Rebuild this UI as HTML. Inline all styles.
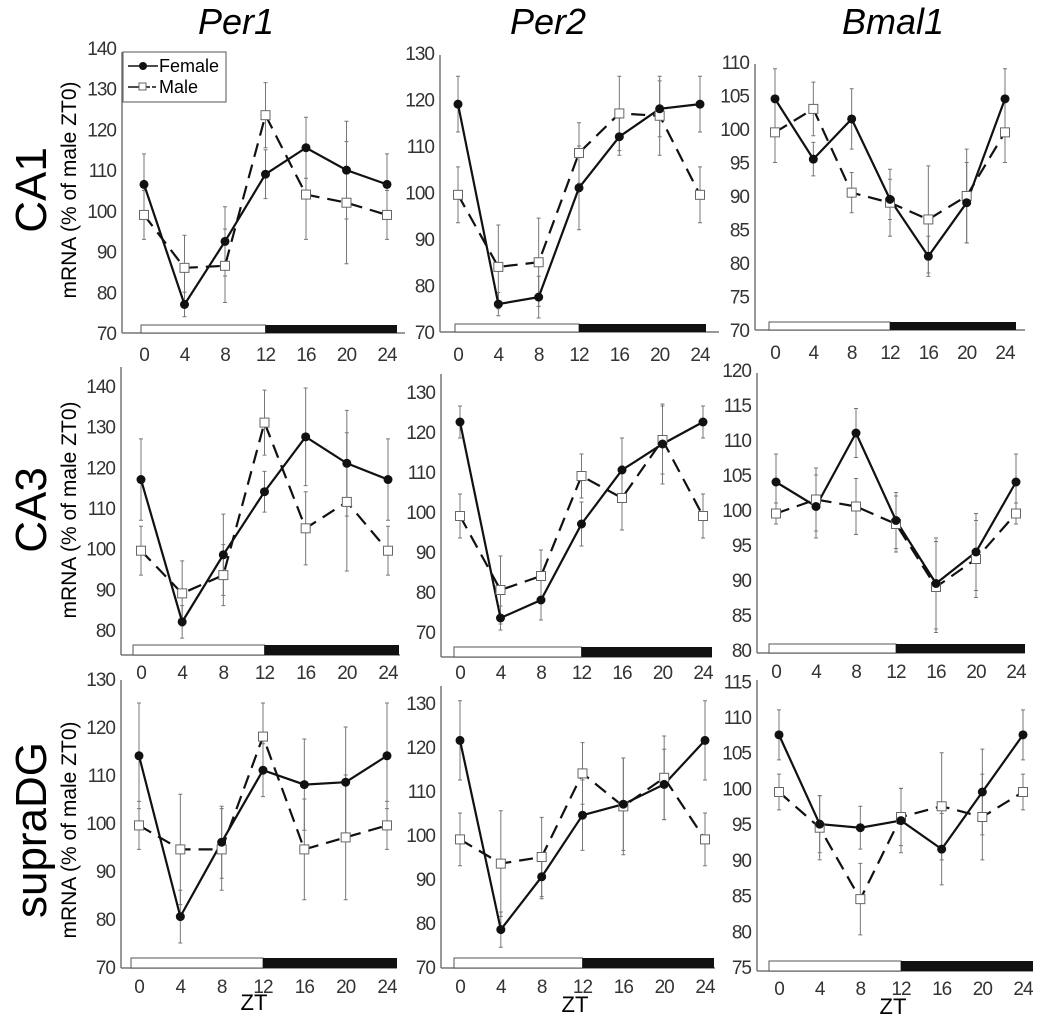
<!DOCTYPE html>
<html><head><meta charset="utf-8"><style>
body{margin:0;background:#fff;}
svg{display:block;font-family:"Liberation Sans",sans-serif;}
</style></head><body>
<svg id="fig" width="1050" height="1024" viewBox="0 0 1050 1024" xmlns="http://www.w3.org/2000/svg">
<text x="236" y="34" font-size="36" font-style="italic" text-anchor="middle">Per1</text>
<text x="548" y="34" font-size="36" font-style="italic" text-anchor="middle">Per2</text>
<text x="893" y="34" font-size="36" font-style="italic" text-anchor="middle">Bmal1</text>
<text transform="translate(46,190) rotate(-90)" font-size="44" text-anchor="middle">CA1</text>
<text transform="translate(76,190) rotate(-90)" font-size="21" text-anchor="middle">mRNA (% of male ZT0)</text>
<text transform="translate(46,510) rotate(-90)" font-size="44" text-anchor="middle">CA3</text>
<text transform="translate(76,510) rotate(-90)" font-size="21" text-anchor="middle">mRNA (% of male ZT0)</text>
<text transform="translate(46,830) rotate(-90)" font-size="44" text-anchor="middle">supraDG</text>
<text transform="translate(76,830) rotate(-90)" font-size="21" text-anchor="middle">mRNA (% of male ZT0)</text>
</svg>
<script>
const zt = [0,4,8,12,16,20,24];
// CA1
const ca1Per1F=[106.5,77,92.5,109,115.5,110,106.5], ca1Per1FE=[7.5,3,8.5,6,7.5,12,7.5];
const ca1Per1M=[99,86,86.5,123.5,104,102,99], ca1Per1ME=[6,8,9,8,11,15,6];
const ca1Per2F=[119,76,77.5,101,112,118,119], ca1Per2FE=[6,2.5,4.5,9,4,6,6];
const ca1Per2M=[99.5,84,85,108.5,117,116.5,99.5], ca1Per2ME=[6,9,9.5,6.5,8,8.5,6];
const ca1BmalF=[104.5,95.5,101.5,89.5,81,89,104.5], ca1BmalFE=[4.5,2.5,4.5,3,3,6,4.5];
const ca1BmalM=[99.5,103,90.5,89,86.5,90,99.5], ca1BmalME=[4.5,4,3,5,8,7,4.5];
// CA3
const ca3Per1F=[117,82,98.5,114,127.5,121,117], ca3Per1FE=[10,4,10,5,12,13,10];
const ca3Per1M=[99.5,89,93.5,131,105,111.5,99.5], ca3Per1ME=[6,8,7.5,8,9,17,6];
const ca3Per2F=[122.5,73.5,78,97,110.5,117,122.5], ca3Per2FE=[4,3,5,5.5,8,10,4];
const ca3Per2M=[99,80.5,84,109,103.5,118,99], ca3Per2ME=[5.5,8.5,6.5,5.5,8,8.5,5.5];
const ca3BmalF=[104,100.5,111,98.5,89.5,94,104], ca3BmalFE=[4,4.5,3.5,4,6.5,5.5,4];
const ca3BmalM=[99.5,101.5,100.5,98,89,93,99.5], ca3BmalME=[1.5,4.5,4,4,6.5,5.5,1.5];
// supraDG
const dgPer1F=[114,80.5,96,111,108,108.5,114], dgPer1FE=[11,5.5,7.5,5.5,9.5,11.5,11];
const dgPer1M=[99.5,94.5,94.5,118,94.5,97,99.5], dgPer1ME=[5,11.5,8.5,7,10.5,13,5];
const dgPer2F=[121.5,78.5,90.5,104.5,107,111.5,121.5], dgPer2FE=[9,4,5,8,10.5,8,9];
const dgPer2M=[99,93.5,95,114,106.5,113,99], dgPer2ME=[6,12,9,7,11,9.5,6];
const dgBmalF=[107.5,95,94.5,95.5,91.5,99.5,107.5], dgBmalFE=[3.5,4,3,4.5,5,6,3.5];
const dgBmalM=[99.5,94.5,84.5,96,97.5,96,99.5], dgBmalME=[2.5,4.5,5,4,7.5,6,2.5];
const ticks1=[70,80,90,100,110,120,130,140], ticks2=[70,80,90,100,110,120,130], ticks3=[70,75,80,85,90,95,100,105,110];
const ticks4=[80,90,100,110,120,130,140], ticks5=[80,85,90,95,100,105,110,115,120], ticks6=[75,80,85,90,95,100,105,110,115];
const ticks7=[70,80,90,100,110,120,130];

const panels=[
 {n:'ca1-per1',ax:122,x0:144,x24:387,right:405,v0:70,p0:333,v1:140,p1:48,bot:333,top:52,ticks:ticks1,F:ca1Per1F,FE:ca1Per1FE,M:ca1Per1M,ME:ca1Per1ME,bx0:141,bx1:397,bh:8,tl:360},
 {n:'ca1-per2',ax:440,x0:458,x24:700,right:719,v0:70,p0:332,v1:130,p1:53,bot:332,top:55,ticks:ticks2,F:ca1Per2F,FE:ca1Per2FE,M:ca1Per2M,ME:ca1Per2ME,bx0:455,bx1:706,bh:8,tl:360},
 {n:'ca1-bmal1',ax:755,x0:775,x24:1005,right:1025,v0:70,p0:330,v1:110,p1:62,bot:330,top:64,ticks:ticks3,F:ca1BmalF,FE:ca1BmalFE,M:ca1BmalM,ME:ca1BmalME,bx0:769,bx1:1016,bh:8,tl:358},
 {n:'ca3-per1',ax:121,x0:141,x24:388,right:400,v0:80,p0:630,v1:140,p1:386,bot:655,top:367,ticks:ticks4,F:ca3Per1F,FE:ca3Per1FE,M:ca3Per1M,ME:ca3Per1ME,bx0:133,bx1:399,bh:10,tl:678},
 {n:'ca3-per2',ax:441,x0:460,x24:703,right:712,v0:70,p0:632,v1:130,p1:392,bot:657,top:374,ticks:ticks2,F:ca3Per2F,FE:ca3Per2FE,M:ca3Per2M,ME:ca3Per2ME,bx0:454,bx1:712,bh:10,tl:678},
 {n:'ca3-bmal1',ax:757,x0:776,x24:1016,right:1025,v0:80,p0:650,v1:120,p1:370,bot:653,top:373,ticks:ticks5,F:ca3BmalF,FE:ca3BmalFE,M:ca3BmalM,ME:ca3BmalME,bx0:769,bx1:1025,bh:9,tl:677},
 {n:'dg-per1',ax:121,x0:139,x24:387,right:397,v0:70,p0:967,v1:130,p1:679,bot:968,top:680,ticks:ticks7,F:dgPer1F,FE:dgPer1FE,M:dgPer1M,ME:dgPer1ME,bx0:131,bx1:397,bh:10,tl:992},
 {n:'dg-per2',ax:441,x0:460,x24:705,right:715,v0:70,p0:967,v1:130,p1:703,bot:968,top:686,ticks:ticks7,F:dgPer2F,FE:dgPer2FE,M:dgPer2M,ME:dgPer2ME,bx0:454,bx1:714,bh:10,tl:992},
 {n:'dg-bmal1',ax:757,x0:779,x24:1023,right:1033,v0:75,p0:967,v1:110,p1:717,bot:971,top:680,ticks:ticks6,F:dgBmalF,FE:dgBmalFE,M:dgBmalM,ME:dgBmalME,bx0:769,bx1:1033,bh:10,tl:994}
];
const svg=document.getElementById('fig');
const NS='http://www.w3.org/2000/svg';
function mk(tag,attrs,parent){const e=document.createElementNS(NS,tag);for(const k in attrs)e.setAttribute(k,attrs[k]);(parent||svg).appendChild(e);return e;}
panels.forEach(p=>{
 const g=mk('g',{});
 
 
 const X=t=>p.x0+(p.x24-p.x0)*t/24;
 const Y=v=>p.p0+(p.p1-p.p0)*(v-p.v0)/(p.v1-p.v0);
 const ya=mk('line',{x1:p.ax,y1:p.top,x2:p.ax,y2:p.bot,stroke:'#777','stroke-width':1.5},g);
 
 
 const xa=mk('line',{x1:p.ax,y1:p.bot,x2:p.right,y2:p.bot,stroke:'#777','stroke-width':1.5},g);
 
 
 p.ticks.forEach(v=>{
  const t=mk('text',{x:p.ax-6,y:Y(v)+7,'font-size':19,'letter-spacing':-1,'text-anchor':'end',fill:'#333'},g);
  t.textContent=v;
  
  
 });
 zt.forEach(z=>{
  const t=mk('text',{x:X(z),y:p.tl+1,'font-size':19,'letter-spacing':-1,'text-anchor':'middle',fill:'#333'},g);
  t.textContent=z;
  
  
 });
 const mid=X(12);
 const lb=mk('rect',{x:p.bx0,y:p.bot-p.bh,width:mid-p.bx0,height:p.bh,fill:'#fff',stroke:'#555','stroke-width':1},g);
 
 
 const db=mk('rect',{x:mid,y:p.bot-p.bh,width:p.bx1-mid,height:p.bh,fill:'#111'},g);
 
 
 [[p.M,p.ME,'male'],[p.F,p.FE,'female']].forEach(([vals,errs,s])=>{
  vals.forEach((v,i)=>{
   const x=X(zt[i]);
   const e=mk('path',{d:`M${x},${Y(v-errs[i])}V${Y(v+errs[i])}M${x-2},${Y(v-errs[i])}h4M${x-2},${Y(v+errs[i])}h4`,stroke:'#777','stroke-width':1,fill:'none'},g);
   
   
  });
 });
 const pts=a=>a.map((v,i)=>X(zt[i])+','+Y(v)).join(' ');
 const ml=mk('polyline',{points:pts(p.M),fill:'none',stroke:'#111','stroke-width':2.2,'stroke-dasharray':'14,8'},g);
 
 
 const fl=mk('polyline',{points:pts(p.F),fill:'none',stroke:'#111','stroke-width':2.2},g);
 
 
 p.M.forEach((v,i)=>{
  const r=mk('rect',{x:X(zt[i])-4.5,y:Y(v)-4.5,width:9,height:9,fill:'#fff',stroke:'#666','stroke-width':1},g);
  
  
 });
 p.F.forEach((v,i)=>{
  const c=mk('circle',{cx:X(zt[i]),cy:Y(v),r:4.5,fill:'#111'},g);
  
  
 });
});
// ZT labels
[[254,1010],[575,1012],[893,1014]].forEach(([x,y])=>{
 const t=mk('text',{x:x,y:y,'font-size':22,'text-anchor':'middle'});
 t.textContent='ZT';
 
 
});
// Legend
const lg=mk('g',{});


mk('rect',{x:123,y:52,width:103,height:50,fill:'#fff',stroke:'#555','stroke-width':1},lg);
mk('line',{x1:128,y1:66,x2:158,y2:66,stroke:'#111','stroke-width':1.5},lg);
mk('circle',{cx:143,cy:66,r:4,fill:'#111'},lg);
const lt1=mk('text',{x:159,y:72,'font-size':18},lg);lt1.textContent='Female';


mk('line',{x1:128,y1:87,x2:150,y2:87,stroke:'#111','stroke-width':1.5},lg);
mk('rect',{x:139,y:83,width:7,height:7,fill:'#fff',stroke:'#666'},lg);
mk('line',{x1:152,y1:87,x2:156,y2:87,stroke:'#111','stroke-width':1.5},lg);
const lt2=mk('text',{x:159,y:93,'font-size':18},lg);lt2.textContent='Male';


</script>
</body></html>
